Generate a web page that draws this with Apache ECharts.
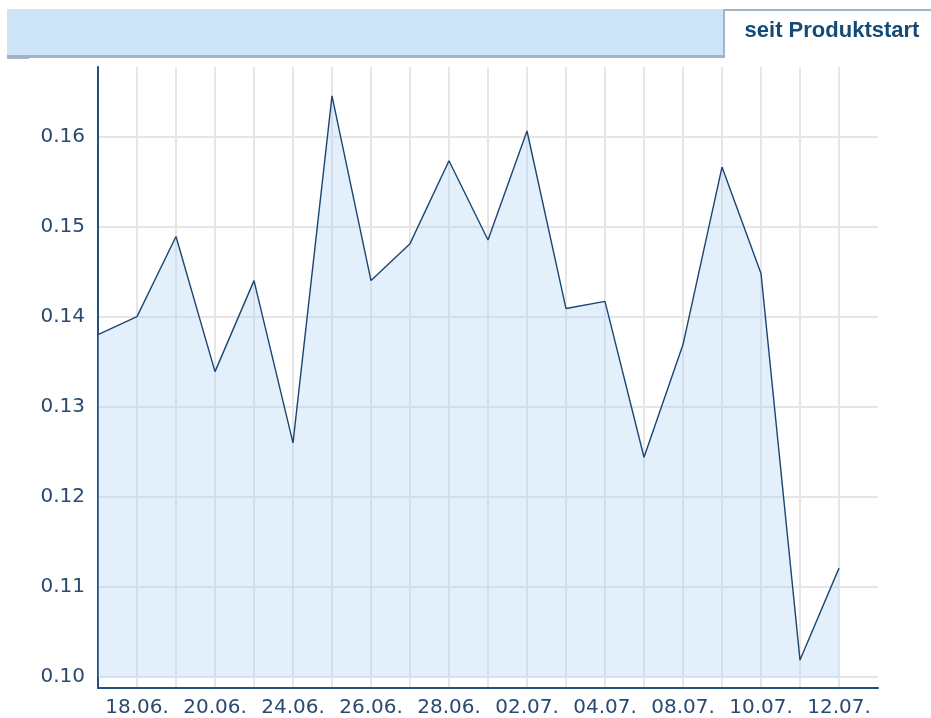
<!DOCTYPE html>
<html><head><meta charset="utf-8">
<script src="https://cdn.jsdelivr.net/npm/echarts@6/dist/echarts.min.js"></script>
<style>html,body{margin:0;padding:0;background:#fff}#c{width:931px;height:718px}</style>
</head><body><div id="c"></div>
<script>
const categories = ['17.06.','18.06.','19.06.','20.06.','21.06.','24.06.','25.06.','26.06.','27.06.','28.06.',
  '01.07.','02.07.','03.07.','04.07.','05.07.','08.07.','09.07.','10.07.','11.07.','12.07.'];
const values = [0.1380,0.1400,0.1489,0.1339,0.1440,0.1260,0.1645,0.1440,0.1481,0.1573,
  0.1485,0.1606,0.1409,0.1417,0.1244,0.1369,0.1566,0.1448,0.1019,0.1121];
const yTicks = [0.10,0.11,0.12,0.13,0.14,0.15,0.16];
const tabLabel = 'seit Produktstart';

const axisColor = '#23507f';
const textColor = '#2a4a70';
const gridColor = '#e6e6e6';

const chart = echarts.init(document.getElementById('c'), null, {renderer:'canvas'});
chart.setOption({
  animation: false,
  backgroundColor: '#fff',
  grid: {left: 98, right: 53, top: 67, bottom: 30, containLabel: false},
  xAxis: {
    type: 'category',
    boundaryGap: false,
    data: categories.concat(['']),
    axisLine: {show: true, lineStyle: {color: axisColor, width: 2}},
    axisTick: {show: false},
    axisLabel: {
      interval: (i) => i % 2 === 1 && i < categories.length,
      color: textColor, fontFamily: 'DejaVu Sans', fontSize: 20, margin: 10
    },
    splitLine: {show: true, interval: (i) => i < categories.length, lineStyle: {color: gridColor, width: 2}}
  },
  yAxis: {
    type: 'value',
    min: 0.0988, max: 0.1677,
    axisLine: {show: true, lineStyle: {color: axisColor, width: 2}},
    axisTick: {show: false, customValues: yTicks},
    axisLabel: {customValues: yTicks, formatter: v => v.toFixed(2), color: textColor,
      fontFamily: 'DejaVu Sans', fontSize: 20, margin: 13},
    splitLine: {show: true, lineStyle: {color: gridColor, width: 2}}
  },
  series: [{
    type: 'line',
    data: values,
    symbol: 'none',
    lineStyle: {color: '#1b4673', width: 1.4},
    areaStyle: {color: '#a9cdef', opacity: 0.33, origin: yTicks[0]},
    z: 3
  }],
  graphic: [
    {type: 'rect', shape: {x: 7, y: 9, width: 717, height: 47}, style: {fill: '#cde4f7'}},
    {type: 'rect', shape: {x: 7, y: 55, width: 718, height: 3}, style: {fill: '#9fb4c9'}},
    {type: 'rect', shape: {x: 723, y: 9, width: 2, height: 49}, style: {fill: '#9fb4c9'}},
    {type: 'rect', shape: {x: 723, y: 9, width: 208, height: 2}, style: {fill: '#9fb4c9'}},
    {type: 'rect', shape: {x: 7, y: 58, width: 22, height: 1}, style: {fill: '#a9b9c9'}},
    {type: 'text', x: 832, y: 31, style: {text: tabLabel, fill: '#144a78',
      font: 'bold 22px "Liberation Sans", Arial, sans-serif', align: 'center', verticalAlign: 'middle'}}
  ]
});
</script></body></html>
